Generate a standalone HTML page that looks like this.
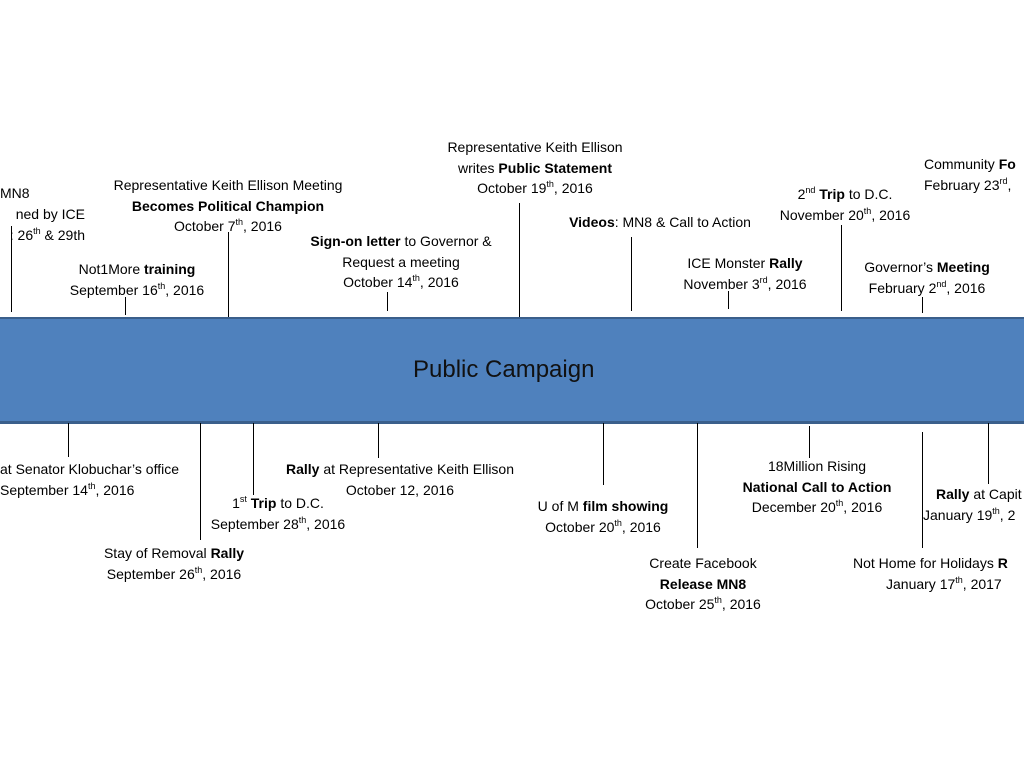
<!DOCTYPE html>
<html><head><meta charset="utf-8"><style>
html,body{margin:0;padding:0;background:#fff;width:1024px;height:768px;overflow:hidden;position:relative;font-family:"Liberation Sans",sans-serif;color:#000}
.t{position:absolute;font-size:14px;line-height:20.5px;text-align:center;white-space:nowrap;transform:translateX(-50%)}
.l{position:absolute;width:1.3px;background:#000}
sup{font-size:9px;line-height:0;vertical-align:6px}
#bar{position:absolute;left:-5px;top:317px;width:1040px;height:102px;background:#4F81BD;border-top:2px solid #3A5F8B;border-bottom:3px solid #3A5F8B}
#bar div{position:absolute;left:418px;top:37px;font-size:24px;color:#111;white-space:nowrap}
</style></head><body>
<div id="bar"><div>Public Campaign</div></div>

<div class="l" style="left:11px;top:226px;height:86px"></div>
<div class="l" style="left:125px;top:297px;height:18px"></div>
<div class="l" style="left:228px;top:232px;height:85px"></div>
<div class="l" style="left:387px;top:292px;height:19px"></div>
<div class="l" style="left:519px;top:203px;height:114px"></div>
<div class="l" style="left:631px;top:237px;height:74px"></div>
<div class="l" style="left:728px;top:291px;height:18px"></div>
<div class="l" style="left:841px;top:225px;height:86px"></div>
<div class="l" style="left:922px;top:297px;height:16px"></div>

<div class="l" style="left:68px;top:423px;height:34px"></div>
<div class="l" style="left:200px;top:423px;height:117px"></div>
<div class="l" style="left:253px;top:423px;height:72px"></div>
<div class="l" style="left:378px;top:423px;height:35px"></div>
<div class="l" style="left:603px;top:423px;height:62px"></div>
<div class="l" style="left:697px;top:423px;height:125px"></div>
<div class="l" style="left:809px;top:426px;height:32px"></div>
<div class="l" style="left:922px;top:432px;height:116px"></div>
<div class="l" style="left:988px;top:423px;height:61px"></div>

<div class="t" style="left:0;top:183px;transform:none;text-align:left">MN8</div>
<div class="t" style="left:-60px;top:204px;transform:none;text-align:right;width:145px">ned by ICE<br>: 26<sup>th</sup> &amp; 29th</div>
<div class="t" style="left:137px;top:259px">Not1More <b>training</b><br>September 16<sup>th</sup>, 2016</div>
<div class="t" style="left:228px;top:175px">Representative Keith Ellison Meeting<br><b>Becomes Political Champion</b><br>October 7<sup>th</sup>, 2016</div>
<div class="t" style="left:401px;top:231px"><b>Sign-on letter</b> to Governor &amp;<br>Request a meeting<br>October 14<sup>th</sup>, 2016</div>
<div class="t" style="left:535px;top:137px">Representative Keith Ellison<br>writes <b>Public Statement</b><br>October 19<sup>th</sup>, 2016</div>
<div class="t" style="left:660px;top:212px"><b>Videos</b>: MN8 &amp; Call to Action</div>
<div class="t" style="left:745px;top:253px">ICE Monster <b>Rally</b><br>November 3<sup>rd</sup>, 2016</div>
<div class="t" style="left:845px;top:184px">2<sup>nd</sup> <b>Trip</b> to D.C.<br>November 20<sup>th</sup>, 2016</div>
<div class="t" style="left:924px;top:154px;transform:none;text-align:left">Community <b>Fo</b><br>February 23<sup>rd</sup>,</div>
<div class="t" style="left:927px;top:257px">Governor’s <b>Meeting</b><br>February 2<sup>nd</sup>, 2016</div>

<div class="t" style="left:0;top:459px;transform:none;text-align:left">at Senator Klobuchar’s office<br>September 14<sup>th</sup>, 2016</div>
<div class="t" style="left:174px;top:543px">Stay of Removal <b>Rally</b><br>September 26<sup>th</sup>, 2016</div>
<div class="t" style="left:278px;top:493px">1<sup>st</sup> <b>Trip</b> to D.C.<br>September 28<sup>th</sup>, 2016</div>
<div class="t" style="left:400px;top:459px"><b>Rally</b> at Representative Keith Ellison<br>October 12, 2016</div>
<div class="t" style="left:603px;top:496px">U of M <b>film showing</b><br>October 20<sup>th</sup>, 2016</div>
<div class="t" style="left:703px;top:553px">Create Facebook<br><b>Release MN8</b><br>October 25<sup>th</sup>, 2016</div>
<div class="t" style="left:817px;top:456px">18Million Rising<br><b>National Call to Action</b><br>December 20<sup>th</sup>, 2016</div>
<div class="t" style="left:936px;top:484px;transform:none;text-align:left"><b>Rally</b> at Capit<br><span style="margin-left:-13px">January 19<sup>th</sup>, 2</span></div>
<div class="t" style="left:853px;top:553px;transform:none;text-align:left">Not Home for Holidays <b>R</b><br><span style="margin-left:33px">January 17<sup>th</sup>, 2017</span></div>
</body></html>
